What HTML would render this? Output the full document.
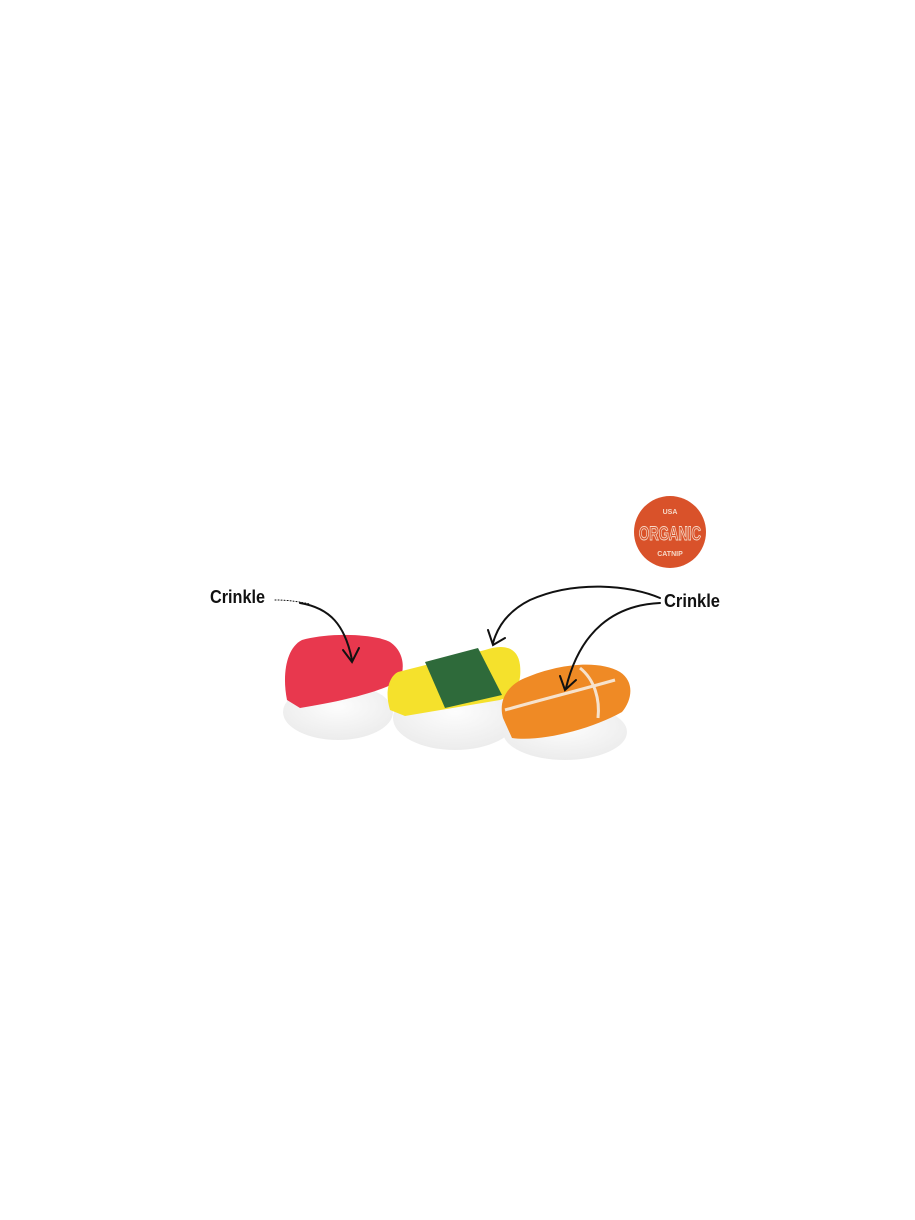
<!DOCTYPE html>
<html><head><style>
html,body{margin:0;padding:0;background:#fff;}
svg{display:block}
</style></head><body>
<svg width="915" height="1220" viewBox="0 0 915 1220" xmlns="http://www.w3.org/2000/svg">
<defs>
<radialGradient id="rice" cx="50%" cy="40%" r="60%"><stop offset="0" stop-color="#fdfdfd"/><stop offset="1" stop-color="#ececec"/></radialGradient>
</defs>
<!-- badge -->
<circle cx="670" cy="532" r="36" fill="#d9522a"/>
<text x="670" y="514" font-family="Liberation Sans, sans-serif" font-size="7" font-weight="bold" fill="#f6d9c8" text-anchor="middle">USA</text>
<text x="670" y="540" font-family="Liberation Sans Narrow, Liberation Sans, sans-serif" font-size="19" font-weight="bold" fill="none" stroke="#f6d9c8" stroke-width="0.9" text-anchor="middle" textLength="62" lengthAdjust="spacingAndGlyphs">ORGANIC</text>
<text x="670" y="556" font-family="Liberation Sans, sans-serif" font-size="7" font-weight="bold" fill="#f6d9c8" text-anchor="middle">CATNIP</text>
<!-- labels -->
<text x="210" y="603" font-family="Liberation Sans Narrow, Liberation Sans, sans-serif" font-size="18" font-weight="bold" fill="#111" textLength="55" lengthAdjust="spacingAndGlyphs">Crinkle</text>
<text x="664" y="607" font-family="Liberation Sans Narrow, Liberation Sans, sans-serif" font-size="18" font-weight="bold" fill="#111" textLength="56" lengthAdjust="spacingAndGlyphs">Crinkle</text>
<!-- red sushi -->
<ellipse cx="338" cy="712" rx="55" ry="28" fill="url(#rice)"/>
<path d="M287 700 C282 675 286 648 302 640 C330 632 375 634 390 642 C402 650 406 665 400 680 C385 690 350 700 300 708 Z" fill="#e8384e"/>
<!-- yellow sushi -->
<ellipse cx="455" cy="718" rx="62" ry="32" fill="url(#rice)"/>
<path d="M390 710 C384 690 390 676 398 672 L485 650 C505 643 518 648 520 665 C522 685 515 695 500 700 L405 716 Z" fill="#f5e12c"/>
<path d="M425 662 L478 648 L502 695 L445 708 Z" fill="#2e6a3a"/>
<!-- orange sushi -->
<ellipse cx="565" cy="732" rx="62" ry="28" fill="url(#rice)"/>
<path d="M503 718 C498 700 508 685 525 678 C560 663 600 660 620 672 C635 682 632 700 622 712 C590 730 540 742 512 738 Z" fill="#ef8a25"/>
<path d="M505 710 C540 700 580 690 615 680" stroke="#f6e2cc" stroke-width="3" fill="none"/>
<path d="M580 668 C595 680 600 700 598 718" stroke="#f6e2cc" stroke-width="3" fill="none"/>
<!-- arrows -->
<g fill="none" stroke="#111" stroke-width="2" stroke-linecap="round">
<path d="M275 600 C290 600 300 602 310 604" stroke-dasharray="1 2" stroke-width="1"/>
<path d="M300 603 C330 608 345 625 352 660"/>
<path d="M343 650 L352 662 L359 648"/>
<path d="M660 598 C630 585 575 580 530 600 C510 610 498 625 493 643"/>
<path d="M488 630 L493 645 L505 638"/>
<path d="M660 603 C615 605 580 630 566 688"/>
<path d="M560 676 L565 690 L576 680"/>
</g>
</svg>
</body></html>
